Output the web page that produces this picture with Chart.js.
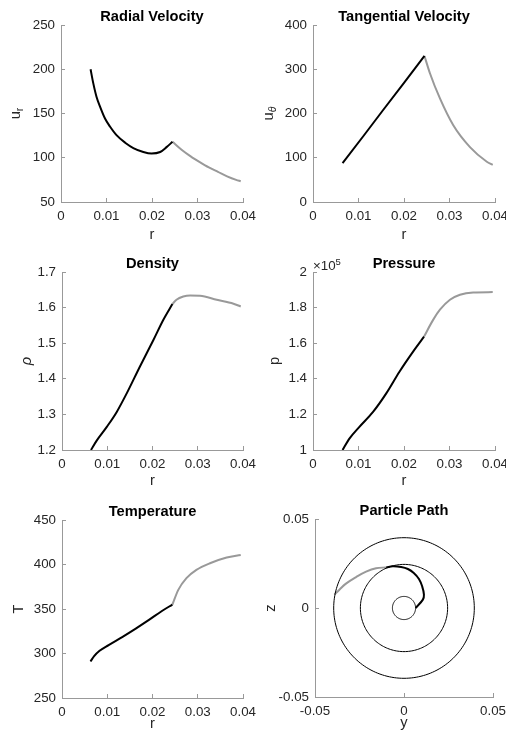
<!DOCTYPE html>
<html><head><meta charset="utf-8">
<script src="https://cdn.jsdelivr.net/npm/chart.js@4.4.1/dist/chart.umd.min.js"></script>
<style>
html,body{margin:0;padding:0;background:#fff;}
#wrap{position:relative;width:506px;height:740px;overflow:hidden;background:#fff;}
canvas{position:absolute;left:0;top:0;pointer-events:none;}
</style></head>
<body><div id="wrap">
<canvas id="c1" width="506" height="740"></canvas>
<canvas id="c2" width="506" height="740"></canvas>
<canvas id="c3" width="506" height="740"></canvas>
<canvas id="c4" width="506" height="740"></canvas>
<canvas id="c5" width="506" height="740"></canvas>
<canvas id="c6" width="506" height="740"></canvas>
</div>
<script>
// ---------- data ----------
const rTicks = [0, 0.01, 0.02, 0.03, 0.04];
const rTickLabels = ['0', '0.01', '0.02', '0.03', '0.04'];

// Radial velocity
const rInRad  = [0.0065,0.0071,0.0078,0.0086,0.0097,0.0108,0.0122,0.0141,0.0159,0.0181,0.0199,0.0218,0.0232,0.0245];
const urIn    = [200,184,169,157.5,144,135,125.5,117,111,106.5,104.7,106.5,112,118];
const rOutRad = [0.0245,0.0265,0.0285,0.0305,0.0325,0.0345,0.0365,0.0385,0.0395];
const urOut   = [118,109,101.5,95,89,84,79,75,73.5];
const urTicks = [50,100,150,200,250];
const urTickLabels = ['50','100','150','200','250'];

// Tangential velocity
const rInTan  = [0.0065,0.011,0.0155,0.02,0.0245];
const utIn    = [88,148,209,269,330];
const rOutTan = [0.0245,0.0257,0.0279,0.0308,0.0345,0.0382,0.0395];
const utOut   = [330,291,234,174,124,91,84];
const utTicks = [0,100,200,300,400];
const utTickLabels = ['0','100','200','300','400'];

// Density
const rInRho  = [0.0064,0.0077,0.0099,0.0121,0.0143,0.0172,0.0202,0.0224,0.0244];
const rhoIn   = [1.2,1.227,1.265,1.307,1.359,1.434,1.509,1.566,1.61];
const rOutRho = [0.0244,0.0253,0.0268,0.0283,0.0305,0.0342,0.0379,0.0395];
const rhoOut  = [1.61,1.622,1.631,1.634,1.633,1.622,1.611,1.603];
const rhoTicks = [1.2,1.3,1.4,1.5,1.6,1.7];
const rhoTickLabels = ['1.2','1.3','1.4','1.5','1.6','1.7'];

// Pressure (Pa)
const rInP  = [0.0065,0.008,0.0102,0.0132,0.0161,0.019,0.022,0.0244];
const pIn   = [100000,106400,113000,121400,131800,144000,155300,163700];
const rOutP = [0.0244,0.0264,0.0279,0.0301,0.0323,0.0352,0.0395];
const pOut  = [163700,173100,178800,184400,187200,188500,188700];
const pTicks = [100000,120000,140000,160000,180000,200000];
const pTickLabels = ['1','1.2','1.4','1.6','1.8','2'];

// Temperature
const rInT  = [0.0063,0.0071,0.0083,0.0103,0.0133,0.0163,0.0193,0.0220,0.0244];
const TIn   = [291,297,303,309.5,318.5,328,338,347.5,355];
const rOutT = [0.0244,0.0257,0.0275,0.0297,0.0327,0.0364,0.0395];
const TOut  = [355,371.5,384.6,393.9,401.4,407.8,410.7];
const TTicks = [250,300,350,400,450];
const TTickLabels = ['250','300','350','400','450'];

// Particle path
const pathYIn  = [0.0065,0.0106,0.0112,0.0102,0.0084,0.0055,0.0022,-0.0016,-0.0063,-0.0100];
const pathZIn  = [0.0,0.0047,0.0075,0.0122,0.0163,0.0197,0.0219,0.0230,0.0234,0.0228];
const pathYOut = [-0.0100,-0.0157,-0.0213,-0.0269,-0.0326,-0.0363,-0.0391];
const pathZOut = [0.0228,0.0223,0.0204,0.0174,0.0137,0.0103,0.0075];
const circleRadii = [0.0065,0.0245,0.0395];
const yzTicks = [-0.05,0,0.05];
const yzTickLabels = ['-0.05','0','0.05'];

// ---------- styling ----------
const FONT = '"Liberation Sans", Arial, Helvetica, sans-serif';
const TICK_PX = 13.33, LABEL_PX = 14.67;
const AX = '#999999';
const TXT = '#262626';
const BLACK = '#000000';
const GRAY = '#999999';
const W = 506, H = 740;

function pts(xs, ys){ return xs.map((x,i)=>({x:x, y:ys[i]})); }

const decor = {
  id:'decor',
  afterDraw(chart, args, o){
    const ca = chart.chartArea, ctx = chart.ctx;
    ctx.save();
    ctx.fillStyle = BLACK;
    ctx.font = 'bold ' + LABEL_PX + 'px ' + FONT;
    ctx.textAlign = 'center';
    ctx.textBaseline = 'alphabetic';
    ctx.fillText(o.title, (ca.left+ca.right)/2, ca.top - 4);
    if (o.yMain){
      ctx.save();
      ctx.translate(o.yx, (ca.top+ca.bottom)/2);
      ctx.rotate(-Math.PI/2);
      ctx.fillStyle = TXT;
      const subFont = (o.subItalic?'italic ':'') + '10.5px ' + FONT;
      ctx.font = LABEL_PX + 'px ' + FONT;
      const w1 = ctx.measureText(o.yMain).width;
      ctx.font = subFont;
      const w2 = ctx.measureText(o.ySub).width;
      const x0 = -(w1+w2)/2;
      ctx.textAlign = 'left';
      ctx.font = LABEL_PX + 'px ' + FONT;
      ctx.fillText(o.yMain, x0, 3.8);
      ctx.font = subFont;
      ctx.fillText(o.ySub, x0 + w1, 7.3);
      ctx.restore();
    }
    if (o.exp){
      ctx.fillStyle = TXT;
      ctx.textAlign = 'left';
      ctx.font = TICK_PX + 'px ' + FONT;
      ctx.fillText('\u00d710', ca.left, ca.top - 2);
      const w = ctx.measureText('\u00d710').width;
      ctx.font = '9.5px ' + FONT;
      ctx.fillText(o.exp, ca.left + w, ca.top - 7);
    }
    ctx.restore();
  }
};

function axis(cfg){
  return {
    type:'linear', min:cfg.min, max:cfg.max,
    afterBuildTicks: s => { s.ticks = cfg.ticks.map(v=>({value:v})); },
    afterFit: s => {
      if (cfg.w!==undefined) s.width = cfg.w;
      if (cfg.h!==undefined) s.height = cfg.h;
      s.paddingLeft = 0; s.paddingRight = 0; s.paddingTop = 0; s.paddingBottom = 0;
    },
    ticks:{ callback:(v,i)=>cfg.labels[i], padding:10, color:TXT, font:{family:FONT,size:TICK_PX}, maxRotation:0, minRotation:0, autoSkip:false },
    grid:{ display:true, drawOnChartArea:false, drawTicks:true, tickLength:-4, color:AX, lineWidth:1 },
    border:{ display:true, color:AX, width:1 },
    title: cfg.title ? { display:true, text:cfg.title, color:TXT, padding:0, font:{family:FONT, size:LABEL_PX, style: cfg.italic?'italic':'normal'} } : {display:false}
  };
}

function make(id, c){
  const xH = c.xH, yW = c.yW;
  new Chart(document.getElementById(id), {
    type:'scatter',
    data:{ datasets:c.datasets },
    options:{
      responsive:false, animation:false, events:[],
      layout:{ autoPadding:false, padding:{ left:c.box[0]-yW, top:c.box[1], right:W-c.box[2], bottom:H-c.box[3]-xH } },
      plugins:{ legend:{display:false}, tooltip:{enabled:false}, title:{display:false}, decor:c.decor },
      scales:{
        x: axis({min:c.xr[0], max:c.xr[1], ticks:c.xt, labels:c.xl, h:xH, title:c.xTitle}),
        y: axis({min:c.yr[0], max:c.yr[1], ticks:c.yt, labels:c.yl, w:yW, title:c.yTitle, italic:c.yItalic})
      }
    },
    plugins:[decor]
  });
}

function line(xs, ys, color, width, tension){
  const d = { data:pts(xs,ys), showLine:true, borderColor:color, backgroundColor:color, borderWidth:width, pointRadius:0, fill:false };
  if (tension !== undefined) { d.tension = tension; } else { d.cubicInterpolationMode = 'monotone'; }
  return d;
}

// 1 Radial velocity
make('c1', { box:[61,25,243,202], yW:50, xH:41.8,
  xr:[0,0.04], xt:rTicks, xl:rTickLabels, xTitle:'r',
  yr:[50,250], yt:urTicks, yl:urTickLabels,
  decor:{ title:'Radial Velocity', yMain:'u', ySub:'r', yx:16 },
  datasets:[ line(rInRad,urIn,BLACK,2), line(rOutRad,urOut,GRAY,2) ] });

// 2 Tangential velocity
make('c2', { box:[313,25,495,202], yW:50, xH:41.8,
  xr:[0,0.04], xt:rTicks, xl:rTickLabels, xTitle:'r',
  yr:[0,400], yt:utTicks, yl:utTickLabels,
  decor:{ title:'Tangential Velocity', yMain:'u', ySub:'\u03b8', subItalic:true, yx:269 },
  datasets:[ line(rInTan,utIn,BLACK,2,0), line(rOutTan,utOut,GRAY,2) ] });

// 3 Density
make('c3', { box:[62,272,243,450], yW:43.8, xH:39.8,
  xr:[0,0.04], xt:rTicks, xl:rTickLabels, xTitle:'r',
  yr:[1.2,1.7], yt:rhoTicks, yl:rhoTickLabels, yTitle:'\u03c1', yItalic:true,
  decor:{ title:'Density' },
  datasets:[ line(rInRho,rhoIn,BLACK,2), line(rOutRho,rhoOut,GRAY,2) ] });

// 4 Pressure
make('c4', { box:[313,272,495,450], yW:47.3, xH:39.8,
  xr:[0,0.04], xt:rTicks, xl:rTickLabels, xTitle:'r',
  yr:[100000,200000], yt:pTicks, yl:pTickLabels, yTitle:'p',
  decor:{ title:'Pressure', exp:'5' },
  datasets:[ line(rInP,pIn,BLACK,2), line(rOutP,pOut,GRAY,2) ] });

// 5 Temperature
make('c5', { box:[62,520,243,698], yW:51.8, xH:34.8,
  xr:[0,0.04], xt:rTicks, xl:rTickLabels, xTitle:'r',
  yr:[250,450], yt:TTicks, yl:TTickLabels, yTitle:'T',
  decor:{ title:'Temperature' },
  datasets:[ line(rInT,TIn,BLACK,2), line(rOutT,TOut,GRAY,2) ] });

// 6 Particle path
const circleSets = circleRadii.map(R => {
  const xs = [], ys = [];
  for (let a = 0; a <= 360; a += 2){ xs.push(R*Math.cos(a*Math.PI/180)); ys.push(R*Math.sin(a*Math.PI/180)); }
  return line(xs, ys, BLACK, 1, 0.3);
});
make('c6', { box:[315,519,493,697], yW:53.3, xH:34.8,
  xr:[-0.05,0.05], xt:yzTicks, xl:yzTickLabels, xTitle:'y',
  yr:[-0.05,0.05], yt:yzTicks, yl:yzTickLabels, yTitle:'z',
  decor:{ title:'Particle Path' },
  datasets:[ ...circleSets, line(pathYIn,pathZIn,BLACK,2,0.4), line(pathYOut,pathZOut,GRAY,2,0.4) ] });
</script>
</body></html>
